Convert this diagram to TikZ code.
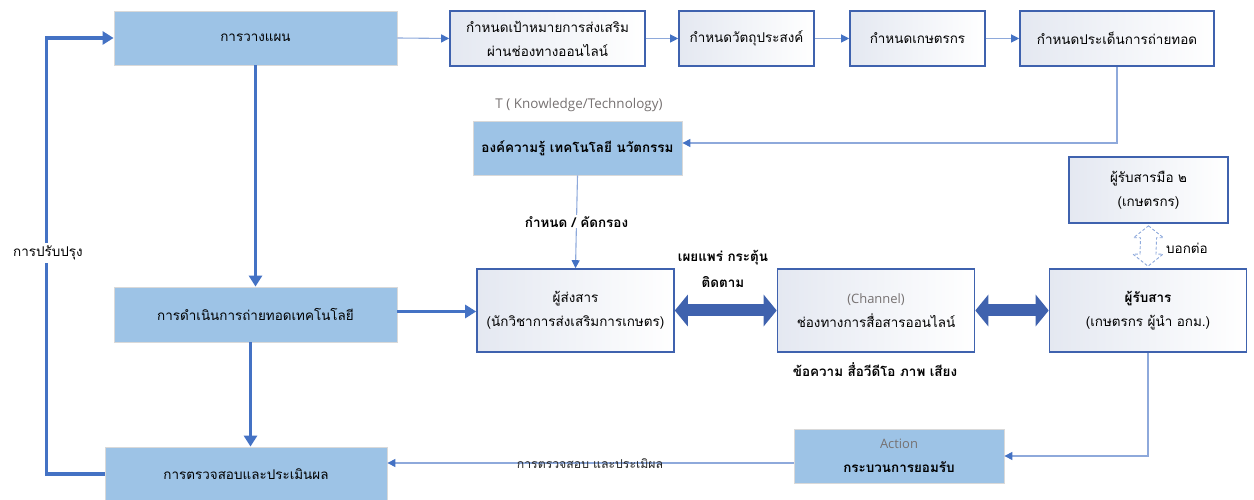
\documentclass[tikz,border=0pt]{standalone}
\usepackage{fontspec}
\setmainfont[Script=Thai]{Loma}
\newfontfamily\latinfont{Open Sans}
\usetikzlibrary{arrows.meta,calc}
\definecolor{fillb}{HTML}{9DC3E6}
\definecolor{edge}{HTML}{3F62AE}
\definecolor{thinc}{HTML}{8EA9DB}
\definecolor{thickc}{HTML}{4472C4}
\definecolor{graytxt}{HTML}{767171}
\definecolor{dashc}{HTML}{8FAADC}
\definecolor{gradc}{HTML}{E4E8F1}
\tikzset{
  txt/.style={font=\fontsize{13.5}{24}\selectfont, text=black},
  filledbox/.style={draw=black!15, line width=0.8bp, fill=fillb, inner sep=0pt, align=center, txt},
  whitebox/.style={draw=edge, line width=1.6bp, left color=gradc, right color=white, inner sep=0pt, align=center, txt},
  thinarrow/.style={draw=thinc, line width=1.1bp, -{Triangle[length=8bp,width=8bp,color=thickc]}},
  thickarrow/.style={draw=thickc, line width=3.2bp, -{Triangle[length=11bp,width=13bp]}},
  blockarrow/.style={draw=edge, line width=12bp, {Triangle[length=13bp,width=31bp]}-{Triangle[length=13bp,width=31bp]}},
  lbl/.style={txt, inner sep=1pt},
  graylbl/.style={font=\latinfont\fontsize{13.5}{16}\selectfont, text=graytxt}
}
\begin{document}
\begin{tikzpicture}[x=1bp,y=-1bp]
\useasboundingbox (0,0) rectangle (1254,500);

% left column
\node[filledbox, minimum width=283bp, minimum height=54bp] (plan) at (255.5,38) {การวางแผน};
\node[filledbox, minimum width=283bp, minimum height=55bp] (impl) at (255.5,314.5) {การดำเนินการถ่ายทอดเทคโนโลยี};
\node[filledbox, minimum width=282bp, minimum height=54bp] (eval) at (246,474) {การตรวจสอบและประเมินผล};

% top row
\node[whitebox, minimum width=195bp, minimum height=55bp] (goal) at (547.5,38.5) {กำหนดเป้าหมายการส่งเสริม\\ผ่านช่องทางออนไลน์};
\node[whitebox, minimum width=135bp, minimum height=55bp] (obj) at (746.5,38.5) {กำหนดวัตถุประสงค์};
\node[whitebox, minimum width=135bp, minimum height=55bp] (farm) at (917.5,38.5) {กำหนดเกษตรกร};
\node[whitebox, minimum width=194bp, minimum height=55bp] (issue) at (1117,38.5) {กำหนดประเด็นการถ่ายทอด};

% knowledge
\node[graylbl] (tlabel) at (579,105) {T ( Knowledge/Technology)};
\node[filledbox, minimum width=209bp, minimum height=54bp, font=\bfseries\fontsize{13.5}{24}\selectfont] (know) at (577.5,148) {องค์ความรู้ เทคโนโลยี นวัตกรรม};

% middle row
\node[whitebox, minimum width=197bp, minimum height=83bp] (send) at (575.5,310.5) {ผู้ส่งสาร\\(นักวิชาการส่งเสริมการเกษตร)};
\node[whitebox, minimum width=197bp, minimum height=83bp] (chan) at (876,310.5) {{\latinfont\fontsize{13}{14}\selectfont\color{graytxt}(Channel)}\\ช่องทางการสื่อสารออนไลน์};
\node[whitebox, minimum width=197bp, minimum height=83bp] (recv) at (1148,310.5) {{\bfseries ผู้รับสาร}\\(เกษตรกร ผู้นำ อกม.)};
\node[whitebox, minimum width=159bp, minimum height=66bp] (recv2) at (1148.5,190) {ผู้รับสารมือ ๒\\(เกษตรกร)};

% action
\node[filledbox, minimum width=210bp, minimum height=54bp] (action) at (899,456) {{\latinfont\fontsize{13}{14}\selectfont\color{graytxt}Action}\\{\bfseries กระบวนการยอมรับ}};

% thin arrows top row
\draw[thinarrow] (plan.east) -- (goal.west);
\draw[thinarrow] (goal.east) -- (obj.west);
\draw[thinarrow] (obj.east) -- (farm.west);
\draw[thinarrow] (farm.east) -- (issue.west);
\coordinate (knowin) at ($(know.east)+(0,-5)$);
\draw[thinarrow] (issue.south) |- (knowin);

% know -> send
\draw[thinarrow] (know.south) -- (send.north)
  node[pos=0.5, lbl, fill=white, font=\bfseries\fontsize{13.5}{24}\selectfont] (kc) {กำหนด / คัดกรอง};

% thick arrows
\draw[thickarrow] (plan.south) -- (impl.north);
\coordinate (implout) at ($(impl.south)+(-5,0)$);
\draw[thickarrow] (implout) -- (implout |- eval.north);
\coordinate (sendin) at ($(send.west)+(0,1)$);
\draw[thickarrow] (impl.east |- sendin) -- (sendin);
\coordinate (loopx) at ($(plan.west)+(-67,0)$);
\draw[thickarrow] (eval.west) -| (loopx) -- (plan.west);
\node[lbl, fill=white, inner sep=3pt] (improve) at (48,253) {การปรับปรุง};

% block arrows
\draw[blockarrow] (send.east) -- (chan.west);
\draw[blockarrow] (chan.east) -- (recv.west);
\node[lbl, font=\bfseries\fontsize{13.5}{26}\selectfont, align=center] (spread) at (723,269) {เผยแพร่ กระตุ้น\\ติดตาม};
\node[lbl, font=\bfseries\fontsize{13.5}{24}\selectfont] (media) at (875,370) {ข้อความ สื่อวีดีโอ ภาพ เสียง};

% dashed double block arrow
\coordinate (T) at ($(recv2.south)+(0,2)$);
\coordinate (B) at ($(recv.north)+(0,-2)$);
\draw[dashc, line width=0.9bp, dash pattern=on 3bp off 2bp]
  (T) -- ($(T)+(15,12)$) -- ($(T)+(8,12)$) -- ($(B)+(8,-12)$) -- ($(B)+(15,-12)$) -- (B)
  -- ($(B)+(-15,-12)$) -- ($(B)+(-8,-12)$) -- ($(T)+(-8,12)$) -- ($(T)+(-15,12)$) -- cycle;
\node[lbl, anchor=west] (tell) at (1165,248) {บอกต่อ};

% receiver -> action -> eval
\draw[thinarrow] (recv.south) |- (action.east);
\coordinate (actout) at ($(action.west)+(0,7)$);
\draw[thinarrow] (actout) -- (actout -| eval.east);
\node[font=\fontsize{12.3}{14}\selectfont, text=black!85, inner sep=0pt] (evallbl) at (590,464) {การตรวจสอบ และประเมิผล};
\end{tikzpicture}
\end{document}
